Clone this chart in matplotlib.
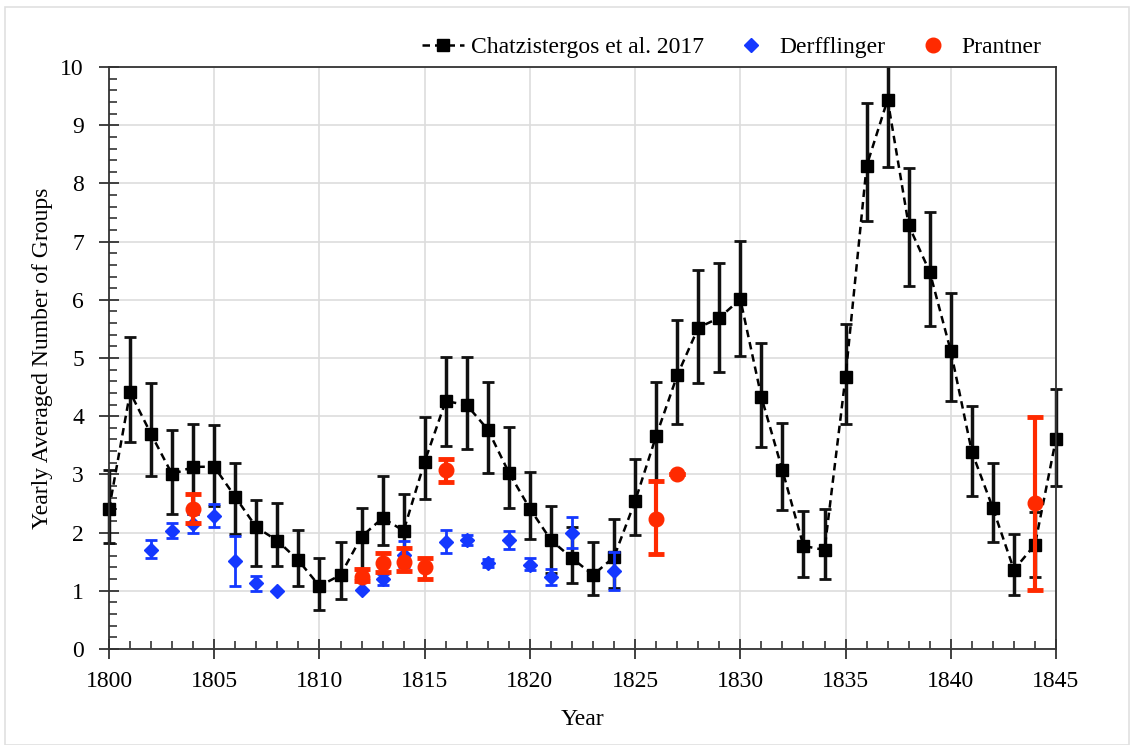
import matplotlib
matplotlib.use("Agg")
import matplotlib.pyplot as plt
from matplotlib.ticker import MultipleLocator
from matplotlib.patches import Rectangle
import numpy as np

plt.rcParams['font.family'] = ['Liberation Serif', 'DejaVu Serif']

# Chatzistergos et al. 2017
ch_years = list(range(1800, 1846))
ch_vals = [2.40, 4.41, 3.69, 3.00, 3.13, 3.13, 2.61, 2.09, 1.86, 1.52,
           1.08, 1.27, 1.93, 2.25, 2.03, 3.22, 4.26, 4.19, 3.77, 3.03,
           2.41, 1.87, 1.56, 1.27, 1.58, 2.54, 3.66, 4.70, 5.52, 5.69,
           6.01, 4.33, 3.07, 1.77, 1.70, 4.68, 8.30, 9.44, 7.28, 6.48,
           5.12, 3.39, 2.42, 1.36, 1.79, 3.61]
ch_hi = [3.07, 5.36, 4.57, 3.76, 3.87, 3.84, 3.20, 2.56, 2.51, 2.05,
         1.57, 1.83, 2.43, 2.97, 2.66, 3.98, 5.01, 5.01, 4.58, 3.81,
         3.04, 2.46, 2.10, 1.83, 2.24, 3.26, 4.59, 5.66, 6.51, 6.64,
         7.01, 5.26, 3.89, 2.37, 2.40, 5.59, 9.39, 10.6, 8.27, 7.51,
         6.12, 4.17, 3.20, 1.97, 2.35, 4.46]
ch_lo = [1.82, 3.56, 2.98, 2.31, 2.31, 2.45, 1.97, 1.42, 1.42, 1.08,
         0.66, 0.85, 1.36, 1.79, 1.45, 2.58, 3.49, 3.43, 3.03, 2.43,
         1.89, 1.30, 1.13, 0.92, 1.05, 1.95, 2.88, 3.86, 4.57, 4.76,
         5.03, 3.47, 2.39, 1.23, 1.20, 3.86, 7.35, 8.29, 6.23, 5.55,
         4.26, 2.63, 1.83, 0.93, 1.23, 2.80]

# Derfflinger
de_years = [1802, 1803, 1804, 1805, 1806, 1807, 1808, 1812, 1813, 1814,
            1816, 1817, 1818, 1819, 1820, 1821, 1822, 1824]
de_vals = [1.70, 2.03, 2.15, 2.29, 1.51, 1.13, 1.00, 1.01, 1.20, 1.62,
           1.83, 1.87, 1.48, 1.87, 1.44, 1.24, 2.00, 1.34]
de_hi = [1.88, 2.16, 2.31, 2.49, 1.94, 1.25, 1.00, 1.01, 1.28, 1.85,
         2.04, 1.96, 1.55, 2.03, 1.57, 1.37, 2.27, 1.67]
de_lo = [1.56, 1.90, 1.99, 2.10, 1.08, 1.00, 1.00, 1.01, 1.10, 1.40,
         1.64, 1.79, 1.41, 1.71, 1.36, 1.10, 1.73, 1.01]

# Prantner
pr_years = [1804, 1812, 1813, 1814, 1815, 1816, 1826, 1827, 1844]
pr_vals = [2.40, 1.24, 1.47, 1.50, 1.40, 3.07, 2.24, 3.00, 2.50]
pr_hi = [2.66, 1.37, 1.64, 1.73, 1.57, 3.27, 2.88, 3.00, 3.99]
pr_lo = [2.17, 1.16, 1.33, 1.34, 1.20, 2.87, 1.63, 3.00, 1.01]

blue = '#1438ff'
red = '#ff2a00'


def yerr(vals, lo, hi):
    v = np.array(vals)
    return [v - np.array(lo), np.array(hi) - v]


fig = plt.figure(figsize=(11.3, 7.45), dpi=100)
ax = fig.add_axes([0.0965, 0.129, 0.838, 0.781])

# clip error bars only at top/bottom so the end points keep their caps
clip_box = Rectangle((-0.05, 0), 1.1, 1, transform=ax.transAxes)


def clip_eb(eb):
    for cap in eb.lines[1]:
        cap.set_clip_path(clip_box)
    for col in eb.lines[2]:
        col.set_clip_path(clip_box)


eb = ax.errorbar(ch_years, ch_vals, yerr=yerr(ch_vals, ch_lo, ch_hi), fmt='none',
                 ecolor='#111111', elinewidth=2.5, capsize=4.5, capthick=2, zorder=3)
clip_eb(eb)
ax.plot(ch_years, ch_vals, color='black', ls=(0, (3, 2)), lw=1.8,
        marker='s', ms=9, label='Chatzistergos et al. 2017', zorder=4,
        clip_on=False)

eb = ax.errorbar(de_years, de_vals, yerr=yerr(de_vals, de_lo, de_hi), fmt='none',
                 ecolor=blue, elinewidth=2, capsize=4.5, capthick=2, zorder=5)
clip_eb(eb)
ax.plot(de_years, de_vals, ls='none', marker='D', ms=7.5, color=blue,
        label='Derfflinger', zorder=6)

eb = ax.errorbar(pr_years, pr_vals, yerr=yerr(pr_vals, pr_lo, pr_hi), fmt='none',
                 ecolor=red, elinewidth=3, capsize=6, capthick=3.5, zorder=7)
clip_eb(eb)
ax.plot(pr_years, pr_vals, ls='none', marker='o', ms=10.5, color=red,
        label='Prantner', zorder=8)

ax.set_xlim(1800, 1845)
ax.set_ylim(0, 10)
ax.xaxis.set_major_locator(MultipleLocator(5))
ax.xaxis.set_minor_locator(MultipleLocator(1))
ax.yaxis.set_major_locator(MultipleLocator(1))
ax.yaxis.set_minor_locator(MultipleLocator(0.2))
ax.tick_params(which='major', direction='inout', length=14, width=1.3,
               labelsize=17, color='#333333')
ax.tick_params(axis='x', which='major', pad=9)
ax.tick_params(axis='y', which='major', pad=11)
ax.tick_params(which='minor', direction='in', length=6, width=1.2,
               color='#333333')
ax.grid(True, which='major', color='#dddddd', lw=1.2)
ax.set_axisbelow(True)
for sp in ax.spines.values():
    sp.set_color('#333333')
    sp.set_linewidth(1.3)
    sp.set_zorder(10)

ax.set_xlabel('Year', fontsize=17, labelpad=12)
ax.set_ylabel('Yearly Averaged Number of Groups', fontsize=17, labelpad=5)

fig.legend(loc='center right', bbox_to_anchor=(1053 / 1130, 1 - 47 / 745),
           ncol=3, frameon=False, fontsize=17, handlelength=1.8,
           columnspacing=1.1, handletextpad=0.3, borderpad=0)

fig.patches.append(Rectangle((5 / 1130, 0), 1 - 6 / 1130, 1 - 7 / 745,
                             transform=fig.transFigure, fill=False,
                             edgecolor='#e0e0e0', lw=1.2))

fig.savefig('out.png', dpi=100)
